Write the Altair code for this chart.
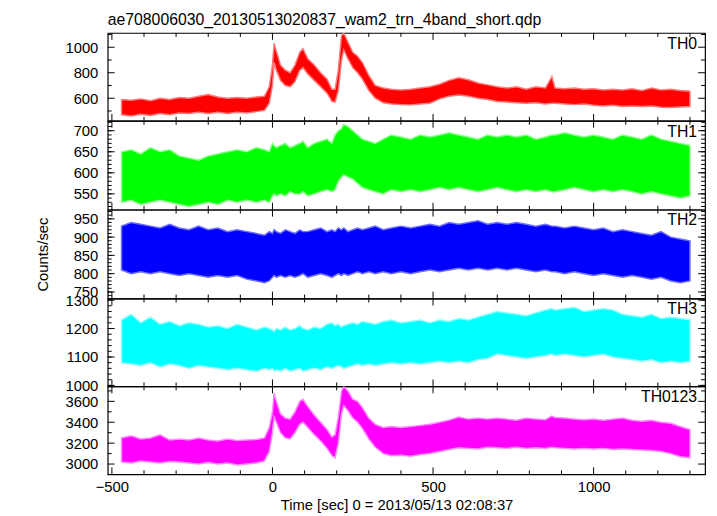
import altair as alt
import pandas as pd

FONT = "Liberation Sans"
TITLE = "ae708006030_20130513020837_wam2_trn_4band_short.qdp"
X_TITLE = "Time [sec] 0 = 2013/05/13 02:08:37"
Y_TITLE = "Counts/sec"

T = [-470, -440, -410, -380, -350, -320, -290, -260, -230, -200,
     -170, -140, -110, -80, -50, -25, -10, 0, 5, 12,
     25, 40, 55, 70, 85, 95, 110, 130, 150, 170,
     185, 195, 205, 215, 222, 235, 250, 265, 280, 300,
     320, 345, 370, 400, 430, 460, 490, 520, 550, 580,
     610, 640, 670, 700, 730, 760, 790, 820, 850, 870,
     880, 910, 940, 970, 1000, 1030, 1060, 1090, 1120, 1150,
     1180, 1210, 1240, 1270, 1300]

TH0_LO = [470, 460, 475, 465, 480, 470, 485, 480, 490, 480,
          490, 480, 490, 485, 495, 505, 560, 700, 880, 820,
          740, 700, 690, 730, 820, 840, 790, 740, 690, 640,
          575, 570, 660, 900, 980, 910, 840, 800, 750, 660,
          600, 565, 555, 550, 548, 555, 560, 595, 615, 625,
          615, 600, 590, 575, 570, 565, 560, 565, 555, 560,
          560, 555, 550, 555, 545, 540, 545, 535, 540, 535,
          540, 530, 528, 532, 535]
TH0_HI = [590, 585, 595, 580, 600, 590, 605, 600, 615, 630,
          610, 600, 605, 600, 610, 615, 690, 860, 1030, 970,
          860, 820, 800, 860, 960, 990, 910, 860, 800, 750,
          670, 670, 820, 1090, 1112, 1040, 960, 930, 880, 780,
          700, 680, 670, 665, 670, 680, 690, 710, 740, 760,
          745, 720, 705, 690, 680, 690, 670, 690, 680, 770,
          680, 675, 680, 670, 675, 665, 670, 665, 675, 660,
          680, 665, 670, 660, 655]

TH1_LO = [530, 535, 525, 530, 535, 530, 525, 520, 525, 530,
          525, 535, 530, 535, 530, 535, 530, 545, 550, 545,
          550, 545, 555, 550, 550, 555, 545, 550, 555, 560,
          555, 560, 580, 590, 595, 590, 585, 575, 565, 560,
          555, 550, 560, 555, 560, 555, 560, 565, 560, 565,
          560, 555, 560, 565, 560, 555, 560, 555, 560, 555,
          555, 560, 565, 560, 555, 560, 555, 560, 555, 550,
          555, 550, 545, 540, 545]
TH1_HI = [650, 655, 645, 660, 650, 655, 640, 635, 630, 640,
          645, 650, 655, 650, 660, 655, 650, 670, 665, 660,
          665, 670, 660, 665, 670, 675, 660, 670, 675, 680,
          670, 690, 700, 705, 715, 710, 700, 690, 680, 675,
          670, 680, 690, 685, 680, 690, 685, 690, 695, 690,
          685, 680, 690, 685, 690, 685, 690, 680, 685, 690,
          690, 695, 690, 685, 690, 685, 680, 690, 685, 680,
          690, 680, 675, 670, 665]

TH2_LO = [810, 800, 805, 800, 805, 800, 795, 800, 795, 790,
          795, 790, 795, 785, 780, 775, 780, 790, 795, 790,
          795, 790, 795, 790, 795, 800, 790, 795, 800, 795,
          790, 795, 800, 795, 800, 795, 800, 805, 800, 805,
          800, 805, 800, 805, 800, 805, 810, 805, 810, 815,
          810, 815, 810, 815, 810, 815, 810, 805, 810, 805,
          805, 800, 805, 800, 795, 800, 795, 790, 795, 790,
          785, 790, 780, 775, 780]
TH2_HI = [930, 940, 935, 930, 925, 935, 925, 920, 930, 920,
          925, 915, 920, 915, 910, 905, 915, 910, 920, 915,
          910, 920, 915, 910, 920, 915, 915, 920, 925, 915,
          920, 915, 925, 920, 925, 915, 920, 925, 920, 925,
          930, 920, 925, 930, 925, 930, 935, 930, 940, 935,
          940, 945, 935, 940, 935, 940, 935, 930, 935, 930,
          930, 925, 930, 925, 920, 925, 915, 920, 915, 910,
          905, 915, 900, 895, 890]

TH3_LO = [1080, 1075, 1070, 1080, 1065, 1075, 1070, 1060, 1070, 1065,
          1060, 1055, 1060, 1055, 1050, 1060, 1055, 1060, 1050, 1055,
          1050, 1060, 1050, 1055, 1060, 1050, 1055, 1060, 1055, 1065,
          1060, 1065, 1070, 1065, 1060, 1065, 1070, 1075, 1070, 1075,
          1070, 1075, 1080, 1075, 1080, 1075, 1080, 1085, 1080, 1085,
          1080, 1090, 1095, 1110, 1105, 1100, 1095, 1100, 1105, 1110,
          1105, 1110, 1105, 1100, 1105, 1110, 1100, 1095, 1090, 1085,
          1090, 1080, 1085, 1080, 1085]
TH3_HI = [1230, 1250, 1220, 1240, 1215, 1225, 1210, 1220, 1215, 1205,
          1210, 1200, 1215, 1205, 1195, 1205, 1200, 1195, 1190, 1200,
          1195, 1205, 1195, 1200, 1210, 1200, 1195, 1205, 1200, 1215,
          1220, 1210, 1215, 1205, 1210, 1215, 1220, 1215, 1225, 1220,
          1215, 1225, 1230, 1220, 1225, 1230, 1220, 1230, 1225, 1235,
          1230, 1240, 1250, 1260, 1255, 1250, 1245, 1255, 1265, 1270,
          1265, 1270, 1275, 1260, 1265, 1270, 1265, 1250, 1245, 1240,
          1250, 1235, 1240, 1235, 1230]

TH0123_LO = [3020, 3010, 3030, 3020, 3010, 3025, 3020, 3010, 3000, 3015,
             3000, 3010, 2990, 3000, 3010, 3030, 3120, 3300, 3450, 3400,
             3300, 3250, 3240, 3300, 3380, 3400, 3350, 3280, 3220, 3150,
             3080, 3060, 3200, 3480, 3560, 3510, 3440, 3400, 3340, 3240,
             3160, 3100, 3080, 3085, 3075, 3090, 3100, 3120, 3140, 3155,
             3150, 3145, 3160, 3155, 3150, 3160, 3150, 3155, 3150, 3160,
             3155, 3150, 3145, 3150, 3145, 3150, 3140, 3145, 3140, 3135,
             3130, 3120, 3100, 3070, 3060]
TH0123_HI = [3250, 3270, 3240, 3250, 3280, 3230, 3240, 3230, 3250, 3230,
             3220, 3240, 3225, 3230, 3235, 3250, 3350, 3500, 3680, 3600,
             3480, 3440, 3430, 3500, 3600, 3620, 3550, 3470, 3400, 3330,
             3260, 3280, 3450, 3700, 3743, 3700, 3620, 3600, 3540, 3440,
             3380, 3350, 3360, 3350, 3360, 3370, 3380, 3400, 3420, 3450,
             3430, 3440, 3430, 3440, 3430, 3420, 3440, 3430, 3425, 3460,
             3445, 3440, 3430, 3425, 3430, 3420, 3430, 3440, 3420, 3410,
             3420, 3400, 3390, 3360, 3330]

X_DOMAIN = [-513, 1347]
X_MAJOR = [-500, 0, 500, 1000]
X_MINOR = [-400, -300, -200, -100, 100, 200, 300, 400, 600, 700, 800, 900,
           1100, 1200, 1300]

PANELS = [
    dict(name="TH0", lo=TH0_LO, hi=TH0_HI, color="#ff0000", fringe="#ff7a7a",
         dom=[423, 1112], major=[600, 800, 1000], minor=[500, 700, 900, 1100], h=89),
    dict(name="TH1", lo=TH1_LO, hi=TH1_HI, color="#00ff00", fringe="#8aff8a",
         dom=[512.5, 723.5], major=[550, 600, 650, 700],
         minor=list(range(520, 721, 10)), h=90),
    dict(name="TH2", lo=TH2_LO, hi=TH2_HI, color="#0000ff", fringe="#7070ff",
         dom=[732, 975], major=[750, 800, 850, 900, 950],
         minor=list(range(740, 971, 10)), h=90),
    dict(name="TH3", lo=TH3_LO, hi=TH3_HI, color="#00ffff", fringe="#8affff",
         dom=[996.5, 1305.5], major=[1000, 1100, 1200, 1300],
         minor=list(range(1000, 1301, 20)), h=89),
    dict(name="TH0123", lo=TH0123_LO, hi=TH0123_HI, color="#ff00ff", fringe="#ff8aff",
         dom=[2902, 3743], major=[3000, 3200, 3400, 3600],
         minor=[2900, 3100, 3300, 3500, 3700], h=89),
]

W = 605
MAJ = 7
MIN = 4


def make_panel(p, idx):
    H = p["h"]
    xs = alt.Scale(domain=X_DOMAIN, nice=False, zero=False)
    ys = alt.Scale(domain=p["dom"], nice=False, zero=False)
    df = pd.DataFrame({"t": T, "lo": p["lo"], "hi": p["hi"]})
    last = idx == len(PANELS) - 1
    if last:
        xaxis = alt.Axis(values=X_MAJOR, ticks=False, domain=False, grid=False,
                         labelPadding=5, labelFlush=False, title=X_TITLE,
                         titlePadding=4, titleX=W / 2 - 10,
                         labelFontSize=15, titleFontSize=15, format="d")
    else:
        xaxis = None
    ytitle = Y_TITLE if p["name"] == "TH2" else None
    yaxis = alt.Axis(values=p["major"], ticks=False, domain=False, grid=False,
                     labelPadding=10, labelFlush=False, labelOverlap=False,
                     labelBound=False, title=ytitle, titlePadding=23,
                     labelFontSize=15, titleFontSize=15, format="d")
    band = alt.Chart(df).mark_area(color=p["color"], opacity=1, stroke=p["fringe"],
                                   strokeWidth=1.5, clip=True).encode(
        x=alt.X("t:Q", scale=xs, axis=xaxis),
        y=alt.Y("lo:Q", scale=ys, axis=yaxis),
        y2="hi:Q",
    )
    layers = [band]
    for vals, ln in ((p["major"], MAJ), (p["minor"], MIN)):
        tdf = pd.DataFrame({"v": vals})
        layers.append(alt.Chart(tdf).mark_rule(color="black", strokeWidth=1).encode(
            y=alt.Y("v:Q", scale=ys, axis=yaxis), x=alt.value(0), x2=alt.value(ln)))
        layers.append(alt.Chart(tdf).mark_rule(color="black", strokeWidth=1).encode(
            y=alt.Y("v:Q", scale=ys, axis=yaxis), x=alt.value(W), x2=alt.value(W - ln)))
    for vals, ln in ((X_MAJOR, MAJ), (X_MINOR, MIN)):
        tdf = pd.DataFrame({"v": vals})
        layers.append(alt.Chart(tdf).mark_rule(color="black", strokeWidth=1).encode(
            x=alt.X("v:Q", scale=xs, axis=xaxis), y=alt.value(0), y2=alt.value(ln)))
        layers.append(alt.Chart(tdf).mark_rule(color="black", strokeWidth=1).encode(
            x=alt.X("v:Q", scale=xs, axis=xaxis), y=alt.value(H), y2=alt.value(H - ln)))
    label = alt.Chart(pd.DataFrame({"label": [p["name"]]})).mark_text(
        align="right", baseline="alphabetic", fontSize=16, font=FONT, color="black"
    ).encode(x=alt.value(W - 8), y=alt.value(16), text="label:N")
    layers.append(label)
    return alt.layer(*layers).properties(width=W, height=H)


chart = alt.vconcat(*[make_panel(p, i) for i, p in enumerate(PANELS)],
                    spacing=0, bounds="flush").properties(
    title=alt.TitleParams(text=TITLE, anchor="start", fontSize=16, font=FONT,
                          fontWeight="normal", offset=4, color="black",
                          frame="group"),
    padding={"left": 27, "top": 0, "right": 2, "bottom": 0},
).configure_view(stroke="black", strokeWidth=1.2).configure_axis(
    labelFont=FONT, titleFont=FONT, labelColor="black", titleColor="black",
    titleFontWeight="normal")

chart.save("out.html", embed_options={"renderer": "svg", "actions": False})
